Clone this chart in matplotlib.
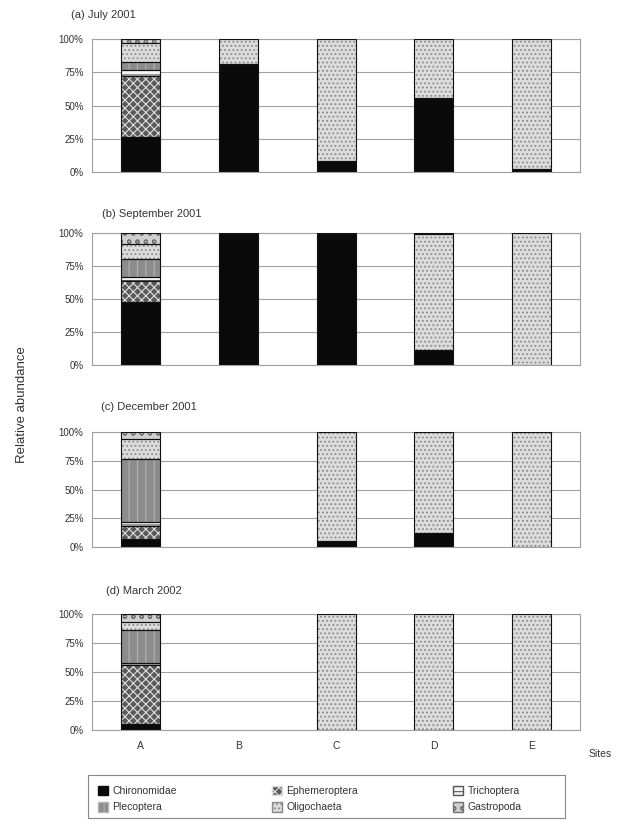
import numpy as np
import matplotlib
matplotlib.use('Agg')
import matplotlib.pyplot as plt
from matplotlib.patches import Patch, Rectangle

plt.rcParams['font.family'] = ['Liberation Sans', 'DejaVu Sans']
plt.rcParams['hatch.linewidth'] = 0.8

#Data (% relative abundance)
sites = ['A', 'B', 'C', 'D', 'E']
taxa = ['Chironomidae', 'Ephemeroptera', 'Trichoptera', 'Plecoptera', 'Oligochaeta', 'Gastropoda']
titles = ['(a) July 2001', '(b) September 2001', '(c) December 2001', '(d) March 2002']

# rows follow taxa order, columns follow sites
jul_2001 = [[26, 81, 8, 56, 2],
            [46, 0, 0, 0, 0],
            [5, 0, 0, 0, 0],
            [6, 0, 0, 0, 0],
            [14, 19, 92, 44, 98],
            [3, 0, 0, 0, 0]]
sep_2001 = [[48, 100, 100, 11, 0],
            [16, 0, 0, 0, 0],
            [3, 0, 0, 0, 0],
            [13, 0, 0, 0, 0],
            [12, 0, 0, 88, 100],
            [8, 0, 0, 1, 0]]
dec_2001 = [[7, 0, 5, 12, 0],
            [11, 0, 0, 0, 0],
            [4, 0, 0, 0, 0],
            [55, 0, 0, 0, 0],
            [17, 0, 95, 88, 100],
            [6, 0, 0, 0, 0]]
mar_2002 = [[5, 0, 0, 0, 0],
            [51, 0, 0, 0, 0],
            [2, 0, 0, 0, 0],
            [28, 0, 0, 0, 0],
            [7, 0, 100, 100, 100],
            [7, 0, 0, 0, 0]]
panels = [jul_2001, sep_2001, dec_2001, mar_2002]

#Styles: face colour, hatch, hatch colour
faces = ['#0a0a0a', '#5a5a5a', '#f4f4f4', '#8c8c8c', '#dcdcdc', '#d0d0d0']
hatches = [None, 'xxxx', '---', '||', '....', 'oo']
hcols = ['#0a0a0a', '#e0e0e0', '#555555', '#b4b4b4', '#8a8a8a', '#707070']

# axes boxes in figure fractions [left, bottom, width, height]
boxes = [[0.146, 0.7915, 0.775, 0.161],
         [0.146, 0.5576, 0.775, 0.160],
         [0.146, 0.337, 0.775, 0.139],
         [0.146, 0.115, 0.775, 0.141]]
title_xy = [(0.112, 0.978), (0.162, 0.737), (0.160, 0.503), (0.168, 0.280)]

fig = plt.figure(figsize=(6.3, 8.25), dpi=100)
x = np.arange(len(sites))
w = 0.4

for k, data in enumerate(panels):
    ax = fig.add_axes(boxes[k])
    vals = np.array(data, dtype=float)
    bottom = np.zeros(len(sites))
    for i in range(len(taxa)):
        v = vals[i]
        ax.bar(x, v, w, bottom=bottom, color=faces[i], edgecolor='none', zorder=2)
        if hatches[i]:
            ax.bar(x, v, w, bottom=bottom, fill=False, hatch=hatches[i],
                   edgecolor=hcols[i], linewidth=0, zorder=3)
        ax.bar(x, np.where(v > 0, v, np.nan), w, bottom=bottom, fill=False,
               edgecolor='#111111', linewidth=0.8, zorder=4)
        bottom += v
    ax.set_xlim(-0.5, 4.5)
    ax.set_ylim(0, 100)
    ax.set_yticks([0, 25, 50, 75, 100])
    ax.set_yticklabels(['0%', '25%', '50%', '75%', '100%'], fontsize=7, color='#333333')
    ax.yaxis.grid(True, color='#a0a0a0', linewidth=0.8, zorder=0)
    ax.set_axisbelow(True)
    ax.tick_params(axis='y', length=0, pad=6)
    for s in ax.spines.values():
        s.set_color('#a0a0a0')
        s.set_linewidth(0.8)
    if k < 3:
        ax.set_xticks([])
    else:
        ax.set_xticks(x)
        ax.set_xticklabels(sites, fontsize=7.5, color='#333333')
        ax.tick_params(axis='x', length=0, pad=8)
    fig.text(title_xy[k][0], title_xy[k][1], titles[k], fontsize=8, color='#333333')

fig.text(0.035, 0.51, 'Relative abundance', rotation=90, fontsize=9.5,
         va='center', ha='center', color='#333333')
fig.text(0.952, 0.082, 'Sites', fontsize=7.5, ha='center', color='#333333')

handles = [Patch(facecolor=faces[i], edgecolor=hcols[i], hatch=hatches[i]) for i in range(len(taxa))]
# legend fills row-wise in the original: reorder for column-major filling
order = [0, 3, 1, 4, 2, 5]
leg = fig.legend([handles[i] for i in order], [taxa[i] for i in order], ncol=3,
                 loc='lower left', bbox_to_anchor=(0.138, 0.002),
                 fontsize=7.5, frameon=False,
                 handlelength=1.0, handleheight=1.0, handletextpad=0.4,
                 borderpad=0.55, labelspacing=0.6, columnspacing=9.1)
for t in leg.get_texts():
    t.set_color('#333333')
# legend frame is wider than its entries in the original
fig.patches.append(Rectangle((88 / 630, 7 / 825), 477 / 630, 43 / 825,
                             transform=fig.transFigure, fill=False,
                             edgecolor='#888888', linewidth=0.8))

plt.savefig('out.png', dpi=100)
